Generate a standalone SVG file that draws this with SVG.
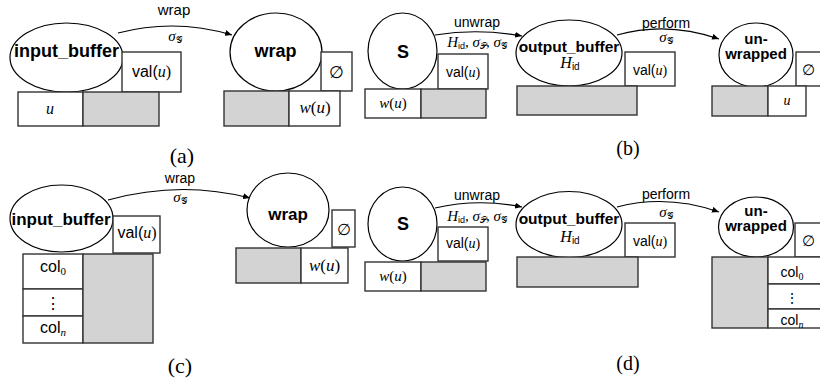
<svg xmlns="http://www.w3.org/2000/svg" width="820" height="389" viewBox="0 0 820 389">
  <style>
    .ell { fill: #fff; stroke: #000; stroke-width: 1.2; }
    .box { fill: #fff; stroke: #333; stroke-width: 1.4; }
    .gray { fill: #d3d3d3; stroke: #333; stroke-width: 1.4; }
    .edge { fill: none; stroke: #000; stroke-width: 1.1; }
    .name { font-family: "Liberation Sans", Arial, sans-serif; font-weight: bold; text-anchor: middle; fill: #000; }
    .sans { font-family: "Liberation Sans", Arial, sans-serif; text-anchor: middle; fill: #000; }
    .serif { font-family: "Liberation Serif", "DejaVu Serif", serif; text-anchor: middle; fill: #000; }
    .it { font-family: "Liberation Serif", "DejaVu Serif", serif; font-style: italic; }
    .up { font-family: "Liberation Serif", "DejaVu Serif", serif; font-style: normal; }
    .scr { font-family: "DejaVu Serif", "Noto Sans", serif; font-style: normal; }
    .ss { font-family: "Liberation Sans", Arial, sans-serif; font-style: normal; }
    .cap { font-family: "Liberation Serif", "DejaVu Serif", serif; text-anchor: middle; fill: #000; }
  </style>
  <defs>
    <marker id="arr" markerWidth="8" markerHeight="6" refX="7" refY="3" orient="auto" markerUnits="userSpaceOnUse">
      <path d="M0,0 L7,3 L0,6 z" fill="#000"/>
    </marker>
  </defs>

  <!-- ===== panel (a) ===== -->
  <g id="a-input_buffer">
    <ellipse class="ell" cx="66.5" cy="57.5" rx="56.5" ry="34.5"/>
    <text class="name" x="66.5" y="57" font-size="18">input_buffer</text>
    <rect class="box" x="122" y="52" width="59" height="40"/>
    <text class="sans" x="151.5" y="77" font-size="16">val(<tspan class="it">u</tspan><tspan class="up">)</tspan></text>
    <rect class="box" x="18" y="92" width="65" height="34"/>
    <rect class="gray" x="83" y="92" width="76" height="34"/>
    <text class="serif" x="50" y="114" font-size="16"><tspan class="it">u</tspan></text>
  </g>
  <g id="a-wrap">
    <ellipse class="ell" cx="276" cy="52" rx="46" ry="39"/>
    <text class="name" x="275.5" y="57" font-size="18">wrap</text>
    <rect class="box" x="321" y="52" width="31" height="39"/>
    <text class="serif" x="336.5" y="78" font-size="17">∅</text>
    <rect class="gray" x="224" y="91" width="65" height="35"/>
    <rect class="box" x="289" y="91" width="51" height="35"/>
    <text class="serif" x="315" y="113" font-size="17"><tspan class="it">w</tspan>(<tspan class="it">u</tspan>)</text>
  </g>
  <text class="cap" x="182" y="163" font-size="22">(a)</text>

  <!-- ===== panel (b) ===== -->
  <g id="b-S">
    <ellipse class="ell" cx="402.5" cy="51" rx="34.5" ry="38"/>
    <text class="name" x="403" y="58" font-size="18">S</text>
    <rect class="box" x="438" y="54" width="50" height="35"/>
    <text class="sans" x="463" y="76.5" font-size="14">val(<tspan class="it">u</tspan><tspan class="up">)</tspan></text>
    <rect class="box" x="365" y="89" width="56" height="29"/>
    <rect class="gray" x="421" y="89" width="65" height="29"/>
    <text class="serif" x="393" y="108" font-size="15"><tspan class="it">w</tspan>(<tspan class="it">u</tspan>)</text>
  </g>
  <g id="b-output_buffer">
    <ellipse class="ell" cx="569" cy="53" rx="53" ry="33"/>
    <text class="name" x="569" y="52" font-size="15.5">output_buffer</text>
    <text class="serif" x="570" y="68" font-size="16"><tspan class="it">H</tspan><tspan class="ss" font-size="10" dy="2">id</tspan></text>
    <rect class="box" x="625" y="52" width="50" height="34"/>
    <text class="sans" x="650" y="75" font-size="14">val(<tspan class="it">u</tspan><tspan class="up">)</tspan></text>
    <rect class="gray" x="517" y="86" width="120" height="29"/>
  </g>
  <g id="b-unwrapped">
    <ellipse class="ell" cx="756" cy="55" rx="37" ry="32"/>
    <text class="name" font-size="15"><tspan x="756" y="44">un-</tspan><tspan x="756" y="59">wrapped</tspan></text>
    <rect class="box" x="796" y="52" width="30" height="34"/>
    <text class="serif" x="808" y="75" font-size="15">∅</text>
    <rect class="gray" x="712" y="86" width="56" height="30"/>
    <rect class="box" x="768" y="86" width="38" height="30"/>
    <text class="serif" x="787" y="105" font-size="14"><tspan class="it">u</tspan></text>
  </g>
  <text class="cap" x="628" y="155" font-size="20">(b)</text>

  <!-- ===== panel (c) ===== -->
  <g id="c-input_buffer">
    <ellipse class="ell" cx="61.5" cy="218.5" rx="51.5" ry="33.5"/>
    <text class="name" x="61" y="225" font-size="17">input_buffer</text>
    <rect class="box" x="113" y="216" width="47" height="37"/>
    <text class="sans" x="137" y="238" font-size="16">val(<tspan class="it">u</tspan><tspan class="up">)</tspan></text>
    <rect class="box" x="23" y="254" width="60" height="35"/>
    <rect class="box" x="23" y="289" width="60" height="27"/>
    <rect class="box" x="23" y="316" width="60" height="27"/>
    <rect class="gray" x="83" y="254" width="70" height="89"/>
    <text class="sans" x="53" y="272" font-size="16">col<tspan class="up" font-size="11" dy="3">0</tspan></text>
    <text class="sans" x="53" y="309" font-size="16">⋮</text>
    <text class="sans" x="53" y="333" font-size="16">col<tspan class="it" font-size="11" dy="3">n</tspan></text>
  </g>
  <g id="c-wrap">
    <ellipse class="ell" cx="288" cy="210" rx="41" ry="37"/>
    <text class="name" x="288" y="220" font-size="17">wrap</text>
    <rect class="box" x="332" y="210" width="23" height="37"/>
    <text class="serif" x="343.5" y="235" font-size="16">∅</text>
    <rect class="gray" x="236" y="248" width="65" height="35"/>
    <rect class="box" x="301" y="248" width="47" height="35"/>
    <text class="serif" x="324.5" y="271" font-size="17"><tspan class="it">w</tspan>(<tspan class="it">u</tspan>)</text>
  </g>
  <text class="cap" x="180" y="373" font-size="22">(c)</text>

  <!-- ===== panel (d) ===== -->
  <g id="d-S">
    <ellipse class="ell" cx="402.5" cy="224" rx="34.5" ry="37"/>
    <text class="name" x="403" y="230" font-size="18">S</text>
    <rect class="box" x="438" y="227" width="50" height="34"/>
    <text class="sans" x="463" y="248" font-size="14">val(<tspan class="it">u</tspan><tspan class="up">)</tspan></text>
    <rect class="box" x="365" y="262" width="56" height="29"/>
    <rect class="gray" x="421" y="262" width="65" height="29"/>
    <text class="serif" x="393" y="281" font-size="15"><tspan class="it">w</tspan>(<tspan class="it">u</tspan>)</text>
  </g>
  <g id="d-output_buffer">
    <ellipse class="ell" cx="569" cy="224.5" rx="53" ry="33"/>
    <text class="name" x="569" y="224" font-size="15.5">output_buffer</text>
    <text class="serif" x="570" y="242" font-size="16"><tspan class="it">H</tspan><tspan class="ss" font-size="10" dy="2">id</tspan></text>
    <rect class="box" x="625" y="223" width="50" height="34"/>
    <text class="sans" x="650" y="246" font-size="14">val(<tspan class="it">u</tspan><tspan class="up">)</tspan></text>
    <rect class="gray" x="517" y="257" width="121" height="30"/>
  </g>
  <g id="d-unwrapped">
    <ellipse class="ell" cx="756" cy="227" rx="37.5" ry="30"/>
    <text class="name" font-size="15"><tspan x="756" y="215.5">un-</tspan><tspan x="756" y="230.5">wrapped</tspan></text>
    <rect class="box" x="795" y="223" width="31" height="34"/>
    <text class="serif" x="808" y="246" font-size="15">∅</text>
    <rect class="gray" x="712" y="257" width="56" height="71"/>
    <rect class="box" x="768" y="257" width="58" height="27"/>
    <rect class="box" x="768" y="284" width="58" height="25"/>
    <rect class="box" x="768" y="309" width="58" height="19"/>
    <text class="sans" x="792" y="277" font-size="14">col<tspan class="up" font-size="10" dy="3">0</tspan></text>
    <text class="sans" x="792" y="303" font-size="14">⋮</text>
    <text class="sans" x="792" y="325" font-size="14">col<tspan class="it" font-size="10" dy="3">n</tspan></text>
  </g>
  <text class="cap" x="628" y="370" font-size="20">(d)</text>

  <!-- ===== connectors ===== -->
  <g id="connectors">
    <path class="edge" d="M118,33 Q175,18 232,35" marker-end="url(#arr)"/>
    <path class="edge" d="M435,35 Q478,28 522,36" marker-end="url(#arr)"/>
    <path class="edge" d="M617,35 Q667,21 719,39" marker-end="url(#arr)"/>
    <path class="edge" d="M108,200 Q180,180 250,198" marker-end="url(#arr)"/>
    <path class="edge" d="M435,208 Q478,198 522,207" marker-end="url(#arr)"/>
    <path class="edge" d="M617,207 Q667,194 719,212" marker-end="url(#arr)"/>
  </g>

  <!-- ===== connector labels ===== -->
  <g id="edge-labels">
    <text class="sans" x="174" y="15" font-size="15">wrap</text>
    <text class="serif" x="175" y="41" font-size="15"><tspan class="it">σ</tspan><tspan class="scr" font-size="9" dy="2">𝒢</tspan></text>
    <text class="sans" x="477" y="27" font-size="14">unwrap</text>
    <text class="serif" x="477" y="47" font-size="15"><tspan class="it">H</tspan><tspan class="ss" font-size="9" dy="2">id</tspan><tspan dy="-2">, </tspan><tspan class="it">σ</tspan><tspan class="scr" font-size="9" dy="2">𝒫</tspan><tspan dy="-2">, </tspan><tspan class="it">σ</tspan><tspan class="scr" font-size="9" dy="2">𝒢</tspan></text>
    <text class="sans" x="666" y="27.5" font-size="14">perform</text>
    <text class="serif" x="666" y="42" font-size="15"><tspan class="it">σ</tspan><tspan class="scr" font-size="9" dy="2">𝒢</tspan></text>
    <text class="sans" x="180" y="183" font-size="14">wrap</text>
    <text class="serif" x="180" y="202" font-size="15"><tspan class="it">σ</tspan><tspan class="scr" font-size="9" dy="2">𝒢</tspan></text>
    <text class="sans" x="477" y="200" font-size="14">unwrap</text>
    <text class="serif" x="477" y="221" font-size="15"><tspan class="it">H</tspan><tspan class="ss" font-size="9" dy="2">id</tspan><tspan dy="-2">, </tspan><tspan class="it">σ</tspan><tspan class="scr" font-size="9" dy="2">𝒫</tspan><tspan dy="-2">, </tspan><tspan class="it">σ</tspan><tspan class="scr" font-size="9" dy="2">𝒢</tspan></text>
    <text class="sans" x="666" y="199" font-size="14">perform</text>
    <text class="serif" x="666" y="217" font-size="15"><tspan class="it">σ</tspan><tspan class="scr" font-size="9" dy="2">𝒢</tspan></text>
  </g>
</svg>
